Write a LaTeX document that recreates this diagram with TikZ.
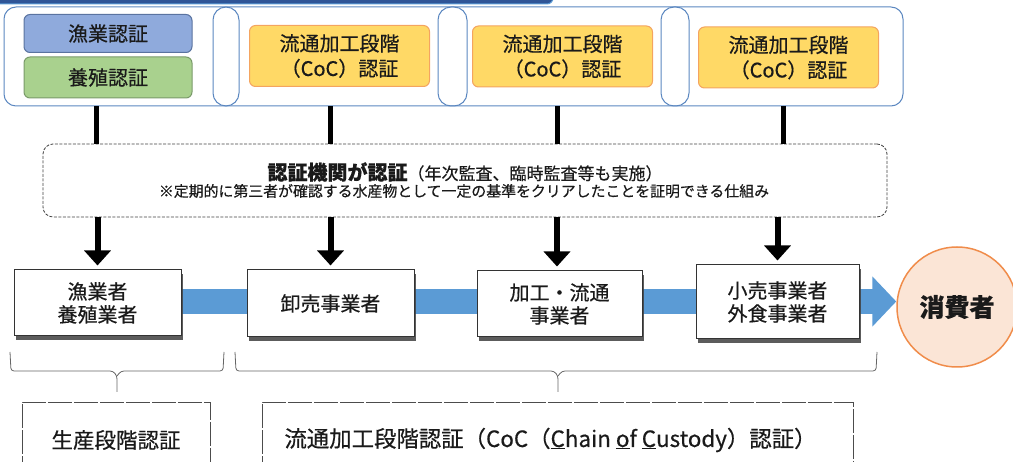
\documentclass[tikz,border=0pt]{standalone}
\usepackage{fontspec}
\setmainfont{Noto Sans CJK JP}[FakeBold=0.5]
\usetikzlibrary{arrows.meta,shadows,backgrounds}
\definecolor{outl}{HTML}{5B87C0}
\definecolor{topbar}{HTML}{2F5597}
\definecolor{bluef}{HTML}{8FAADC}
\definecolor{blued}{HTML}{5A73A0}
\definecolor{greenf}{HTML}{A9D18E}
\definecolor{greend}{HTML}{7A9A6A}
\definecolor{orf}{HTML}{FFD966}
\definecolor{ord}{HTML}{F4A460}
\definecolor{band}{HTML}{5B9BD5}
\definecolor{consf}{HTML}{FBE5D6}
\definecolor{consd}{HTML}{F08C4A}
\definecolor{txt}{HTML}{1A1A1A}
\begin{document}
\begin{tikzpicture}[x=1pt,y=-1pt,
  every node/.style={text=txt, inner sep=0pt, align=center},
  certbox/.style={rectangle, rounded corners=6pt, line width=1pt, minimum width=#1},
  cocbox/.style={certbox=180, fill=orf, draw=ord, minimum height=61, font=\fontsize{20}{25}\selectfont},
  actor/.style={rectangle, draw=black!80, line width=1pt, fill=white, font=\fontsize{20}{23}\selectfont,
     drop shadow={shadow xshift=2pt, shadow yshift=-4pt, fill=black!75, opacity=0.85}},
  vline/.style={line width=5pt, black},
  downarrow/.style={line width=6pt, black, -{Triangle[width=26pt,length=15pt]}, shorten >=4pt},
  stadium/.style={draw=outl, line width=1pt, rounded corners=13pt},
  bracestyle/.style={draw=black!60, line width=0.8pt, rounded corners=3pt},
  openbox/.style={draw=black!70, line width=0.8pt, dash pattern=on 24pt off 2pt},
]
\useasboundingbox (0,0) rectangle (1013,462);
\clip (0,0) rectangle (1013,462);

% top dark bar
\draw[fill=topbar, draw=band, line width=1pt, rounded corners=6pt] (-10,-20) rectangle (553,4);

% outer frame and separators
\draw[draw=outl, line width=1pt, rounded corners=12pt] (4,7) rectangle (903,106);
\coordinate (framebot) at (0,106);
\draw[stadium] (213,7) rectangle (239,106);
\draw[stadium] (438,7) rectangle (467,106);
\draw[stadium] (661,7) rectangle (689,106);

% certification boxes
\node[certbox=168, fill=bluef, draw=blued, minimum height=38, font=\fontsize{20}{20}\selectfont] (gyo) at (108,33.5) {漁業認証};
\node[certbox=168, fill=greenf, draw=greend, minimum height=41, font=\fontsize{20}{20}\selectfont] (yo) at (108,77.5) {養殖認証};
\node[cocbox] (coc1) at (339.5,56) {流通加工段階\\（CoC）認証};
\node[cocbox] (coc2) at (562.5,56.5) {流通加工段階\\（CoC）認証};
\node[cocbox] (coc3) at (788.5,57.5) {流通加工段階\\（CoC）認証};

% certification body dashed box
\node[draw=black!75, line width=0.8pt, dash pattern=on 3pt off 1.5pt, rounded corners=10pt,
      minimum width=844, minimum height=73] (auth) at (465,180.5) {};
\node (auth1) at (465,172) {{\fontsize{20}{20}\selectfont\bfseries 認証機関が認証}{\fontsize{17}{17}\selectfont（年次監査、臨時監査等も実施）}};
\node[font=\fontsize{14.9}{15}\selectfont] (auth2) at (464,191) {※定期的に第三者が確認する水産物として一定の基準をクリアしたことを証明できる仕組み};

% actors
\node[actor, minimum width=167, minimum height=66] (A) at (97.5,303) {漁業者\\養殖業者};
\node[actor, minimum width=167, minimum height=67] (B) at (330.5,303.5) {卸売事業者};
\node[actor, minimum width=165, minimum height=66] (C) at (559.5,304) {加工・流通\\事業者};
\node[actor, minimum width=163, minimum height=74] (D) at (777.5,302) {小売事業者\\外食事業者};
\node[circle, draw=consd, fill=consf, line width=1.5pt, minimum size=120, font=\fontsize{25}{25}\selectfont\bfseries] (cons) at (957,307) {消費者};

% flow band behind actors
\begin{scope}[on background layer]
\draw[band, line width=25pt, -{Triangle[width=49pt,length=24pt]}] ([yshift=1.5]A.east) -- ([yshift=1.5]A.east -| cons.west);
\end{scope}

% vertical connectors
\coordinate (u1) at (96,0);
\coordinate (u2) at (330,0);
\coordinate (u3) at (557,0);
\coordinate (u4) at (783,0);
\foreach \u in {u1,u2,u3,u4}{
  \draw[vline] (\u |- framebot) -- (\u |- auth.north);
}
\draw[downarrow] (A.north |- auth.south) -- (A.north);
\draw[downarrow] (B.north |- auth.south) -- (B.north);
\draw[downarrow] ([xshift=-2.5]C.north |- auth.south) -- ([xshift=-2.5]C.north);
\draw[downarrow] (D.north |- auth.south) -- (D.north);

% braces
\draw[bracestyle] (10,352) -- (11,371) -- (113,371) -- (117,376) -- (117,392);
\draw[bracestyle] (224,352) -- (223,371) -- (121,371) -- (117,376);
\draw[bracestyle] (235,352) -- (236,371) -- (554,371) -- (558,376) -- (558,392);
\draw[bracestyle] (877,352) -- (876,371) -- (562,371) -- (558,376);

% bottom open boxes
\draw[openbox] (22,480) -- (22,402) -- (210,402) -- (210,480);
\draw[openbox] (262,480) -- (262,402) -- (853,402) -- (853,480);
\node[font=\fontsize{21.5}{21.5}\selectfont] (stage1) at (116,440) {生産段階認証};
\node[font=\fontsize{22.4}{22.4}\selectfont] (stage2) at (550.5,440) {流通加工段階認証（CoC（\underline{C}hain \underline{o}f \underline{C}ustody）認証）};
\end{tikzpicture}
\end{document}
